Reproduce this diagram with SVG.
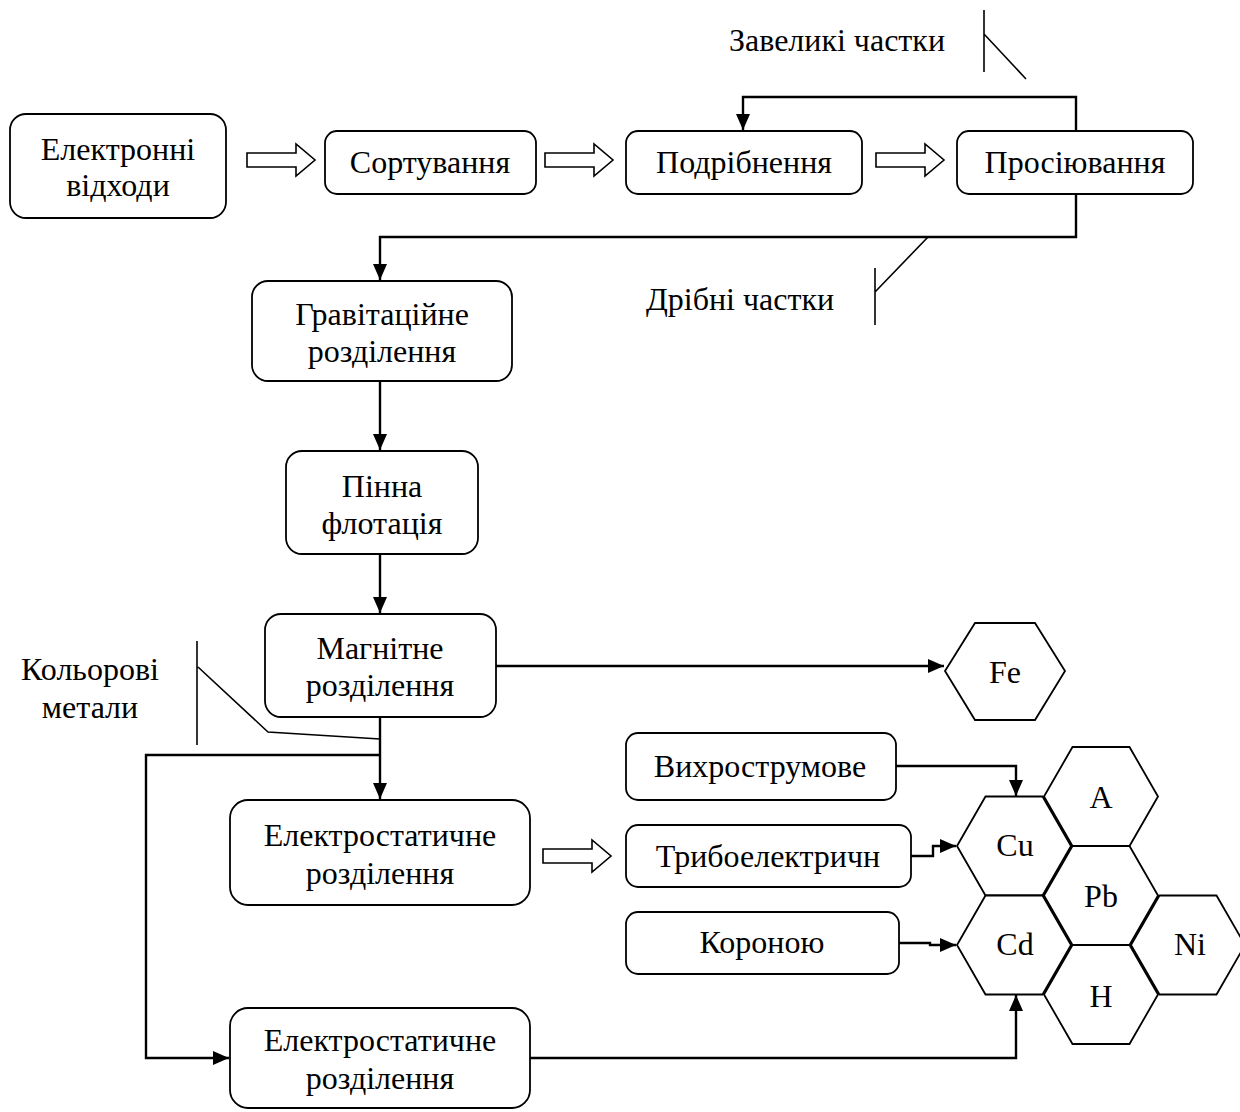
<svg xmlns="http://www.w3.org/2000/svg" width="1240" height="1112" viewBox="0 0 1240 1112">
<defs>
<marker id="ah" markerUnits="userSpaceOnUse" markerWidth="16" markerHeight="14" refX="16" refY="7" orient="auto">
<path d="M0,0 L16,7 L0,14 z" fill="#000"/>
</marker>
<style>
.box{fill:#fff;stroke:#000;stroke-width:1.8}
.hex{fill:#fff;stroke:#000;stroke-width:1.8}
.hol{fill:#fff;stroke:#000;stroke-width:1.6}
.t{font-family:"Liberation Serif","Times New Roman",serif;font-size:32px;fill:#000;text-anchor:middle}
.c{fill:none;stroke:#000;stroke-width:2.4}
.m{fill:none;stroke:#000;stroke-width:1.6}
</style>
</defs>
<rect width="1240" height="1112" fill="#fff"/>

<g id="connectors">
<path class="c" d="M1076 132 V97 H743 V130" marker-end="url(#ah)"/>
<path class="c" d="M1076 194 V237 H380 V280" marker-end="url(#ah)"/>
<path class="c" d="M380 381 V450" marker-end="url(#ah)"/>
<path class="c" d="M380 554 V613" marker-end="url(#ah)"/>
<path class="c" d="M496 666 H944" marker-end="url(#ah)"/>
<path class="c" d="M380 717 V799" marker-end="url(#ah)"/>
<path class="c" d="M380 755 H146 V1058 H229" marker-end="url(#ah)"/>
<path class="c" d="M530 1058 H1016 V995" marker-end="url(#ah)"/>
<path class="c" d="M896 766 H1016 V796" marker-end="url(#ah)"/>
<path class="c" d="M911 856 H933 V846 H956" marker-end="url(#ah)"/>
<path class="c" d="M899 943 H930 V945 H956" marker-end="url(#ah)"/>
<path class="hol" d="M247 153 H296 V144 L315 160 L296 176 V167 H247 Z"/>
<path class="hol" d="M545 153 H594 V144 L613 160 L594 176 V167 H545 Z"/>
<path class="hol" d="M876 153 H925 V144 L944 160 L925 176 V167 H876 Z"/>
<path class="hol" d="M543 849 H592 V840 L611 856 L592 872 V863 H543 Z"/>
<path class="m" d="M984 10 V72 M984 34 L1026 79"/>
<path class="m" d="M928 237 L875 292 M875 268 V325"/>
<path class="m" d="M197 641 V745 M198 667 L268 732 L380 739"/>
</g>

<g id="n-labels">
<text class="t" x="837" y="51">Завеликі частки</text>
<text class="t" x="740" y="310">Дрібні частки</text>
<text class="t" x="90" y="680">Кольорові</text>
<text class="t" x="90" y="718">метали</text>
</g>

<g id="n-waste">
<rect class="box" x="10" y="114" width="216" height="104" rx="16"/>
<text class="t" x="118" y="160">Електронні</text>
<text class="t" x="118" y="196">відходи</text>
</g>
<g id="n-sort">
<rect class="box" x="325" y="131" width="211" height="63" rx="12"/>
<text class="t" x="430" y="173">Сортування</text>
</g>
<g id="n-crush">
<rect class="box" x="626" y="131" width="236" height="63" rx="12"/>
<text class="t" x="744" y="173">Подрібнення</text>
</g>
<g id="n-sieve">
<rect class="box" x="957" y="131" width="236" height="63" rx="12"/>
<text class="t" x="1075" y="173">Просіювання</text>
</g>
<g id="n-grav">
<rect class="box" x="252" y="281" width="260" height="100" rx="16"/>
<text class="t" x="382" y="325">Гравітаційне</text>
<text class="t" x="382" y="362">розділення</text>
</g>
<g id="n-flot">
<rect class="box" x="286" y="451" width="192" height="103" rx="16"/>
<text class="t" x="382" y="497">Пінна</text>
<text class="t" x="382" y="534">флотація</text>
</g>
<g id="n-magn">
<rect class="box" x="265" y="614" width="231" height="103" rx="16"/>
<text class="t" x="380" y="659">Магнітне</text>
<text class="t" x="380" y="696">розділення</text>
</g>
<g id="n-fe">
<polygon class="hex" points="945,671 975,623 1035,623 1065,671 1035,720 975,720"/>
<text class="t" x="1005" y="683">Fe</text>
</g>
<g id="n-es1">
<rect class="box" x="230" y="800" width="300" height="105" rx="18"/>
<text class="t" x="380" y="846">Електростатичне</text>
<text class="t" x="380" y="884">розділення</text>
</g>
<g id="n-es2">
<rect class="box" x="230" y="1008" width="300" height="100" rx="18"/>
<text class="t" x="380" y="1051">Електростатичне</text>
<text class="t" x="380" y="1089">розділення</text>
</g>
<g id="n-vortex">
<rect class="box" x="626" y="733" width="270" height="67" rx="12"/>
<text class="t" x="760" y="777">Вихрострумове</text>
</g>
<g id="n-tribo">
<rect class="box" x="626" y="825" width="285" height="62" rx="12"/>
<text class="t" x="768" y="867">Трибоелектричн</text>
</g>
<g id="n-corona">
<rect class="box" x="626" y="912" width="273" height="62" rx="12"/>
<text class="t" x="762" y="953">Короною</text>
</g>
<g id="n-a">
<polygon class="hex" points="1044,796.5 1072.5,747 1129.5,747 1158,796.5 1129.5,846 1072.5,846"/>
<text class="t" x="1101" y="808">A</text>
</g>
<g id="n-cu">
<polygon class="hex" points="957,846 985.5,796.5 1042.5,796.5 1071,846 1042.5,895.5 985.5,895.5"/>
<text class="t" x="1015" y="856">Cu</text>
</g>
<g id="n-pb">
<polygon class="hex" points="1044,895.5 1072.5,846 1129.5,846 1158,895.5 1129.5,945 1072.5,945"/>
<text class="t" x="1101" y="907">Pb</text>
</g>
<g id="n-cd">
<polygon class="hex" points="957,945 985.5,895.5 1042.5,895.5 1071,945 1042.5,994.5 985.5,994.5"/>
<text class="t" x="1015" y="955">Cd</text>
</g>
<g id="n-h">
<polygon class="hex" points="1044,994.5 1072.5,945 1129.5,945 1158,994.5 1129.5,1044 1072.5,1044"/>
<text class="t" x="1101" y="1007">H</text>
</g>
<g id="n-ni">
<polygon class="hex" points="1131,945 1159.5,895.5 1216.5,895.5 1245,945 1216.5,994.5 1159.5,994.5"/>
<text class="t" x="1190" y="955">Ni</text>
</g>
</svg>
